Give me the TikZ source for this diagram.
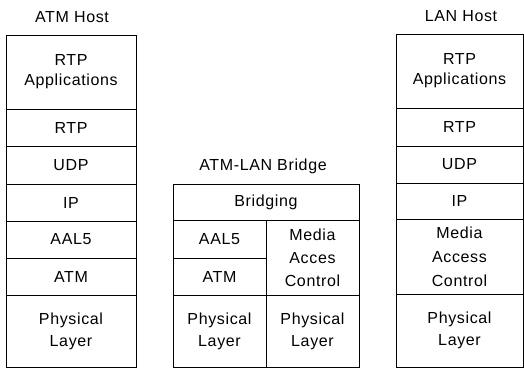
\documentclass[tikz,border=0pt]{standalone}
\usepackage{fontspec}
\setmainfont{Liberation Sans}[LetterSpace=4]
\begin{document}
\begin{tikzpicture}[x=1pt,y=-1pt,
  cell/.style={draw=black, line width=0.9pt, inner sep=0pt, align=center,
    font=\fontsize{16}{22}\selectfont},
  title/.style={inner sep=0pt, font=\fontsize{16}{19}\selectfont}]
\useasboundingbox (0,0) rectangle (524,368);

% ATM host protocol stack
\node[title] (th1) at (72,17) {ATM Host};
\node[cell, minimum width=130, minimum height=74, font=\fontsize{16}{20}\selectfont] (a1) at (71,72) {RTP\\Applications};
\node[cell, minimum width=130, minimum height=37.5] (a2) at (71,127.75) {RTP};
\node[cell, minimum width=130, minimum height=37.5] (a3) at (71,165.25) {UDP};
\node[cell, minimum width=130, minimum height=37] (a4) at (71,202.5) {IP};
\node[cell, minimum width=130, minimum height=37] (a5) at (71,239.5) {AAL5};
\node[cell, minimum width=130, minimum height=37] (a6) at (71,276.5) {ATM};
\node[cell, minimum width=130, minimum height=72] (a7) at (71,331) {Physical\\Layer};

% ATM-LAN bridge
\node[title] (th2) at (263,166) {ATM-LAN Bridge};
\node[cell, minimum width=186, minimum height=36] (b1) at (266,202) {Bridging};
\node[cell, minimum width=93, minimum height=38] (b2) at (219.5,239) {AAL5};
\node[cell, minimum width=93, minimum height=37] (b3) at (219.5,276.5) {ATM};
\node[cell, minimum width=93, minimum height=75, font=\fontsize{16}{23}\selectfont] (b4) at (312.5,257.5) {Media\\Acces\\Control};
\node[cell, minimum width=93, minimum height=72] (b5) at (219.5,331) {Physical\\Layer};
\node[cell, minimum width=93, minimum height=72] (b6) at (312.5,331) {Physical\\Layer};

% LAN host protocol stack
\node[title] (th3) at (461,16) {LAN Host};
\node[cell, minimum width=127, minimum height=74, font=\fontsize{16}{20}\selectfont] (c1) at (459.5,71) {RTP\\Applications};
\node[cell, minimum width=127, minimum height=38] (c2) at (459.5,127) {RTP};
\node[cell, minimum width=127, minimum height=37] (c3) at (459.5,164.5) {UDP};
\node[cell, minimum width=127, minimum height=36.5] (c4) at (459.5,201.25) {IP};
\node[cell, minimum width=127, minimum height=74.5, font=\fontsize{16}{24}\selectfont] (c5) at (459.5,256.75) {Media\\Access\\Control};
\node[cell, minimum width=127, minimum height=73] (c6) at (459.5,330.5) {Physical\\Layer};
\end{tikzpicture}
\end{document}
